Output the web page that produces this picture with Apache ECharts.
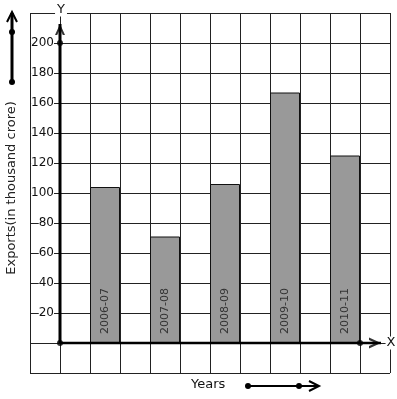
<!DOCTYPE html>
<html>
<head>
<meta charset="utf-8">
<script src="https://cdn.jsdelivr.net/npm/echarts@6/dist/echarts.min.js"></script>
<style>
  html, body { margin: 0; padding: 0; background: #fff; }
  #chart { width: 397px; height: 399px; }
</style>
</head>
<body>
<div id="chart"></div>
<script>
// data
const years = ["2006-07", "2007-08", "2008-09", "2009-10", "2010-11"];
const exportsVal = [104, 71, 106, 167, 125];
const yTicks = [20, 40, 60, 80, 100, 120, 140, 160, 180, 200];
const barSlots = [1.5, 3.5, 5.5, 7.5, 9.5]; // x position of each bar on the graph paper
const axisDots = [[0, 0], [0, 200], [10, 0]];
const yArrowTip = 212.7;
const xArrowTip = 10.7;

const font = "DejaVu Sans";
const upArrow = "path://M0,10 L5,0 L10,10 L7.8,10 L5,4.4 L2.2,10 Z";
const rightArrow = "path://M0,0 L10,5 L0,10 L0,7.8 L5.6,5 L0,2.2 Z";

const chart = echarts.init(document.getElementById("chart"), null, { renderer: "canvas" });

chart.setOption({
  animation: false,
  backgroundColor: "#fff",
  grid: { left: 30, top: 13, width: 360, height: 360, containLabel: false, outerBoundsMode: "none" },
  xAxis: {
    type: "value",
    min: -1,
    max: 11,
    interval: 1,
    axisLine: { show: false, onZero: false },
    axisTick: { show: false },
    axisLabel: { show: false },
    splitLine: { show: true, lineStyle: { color: "#222", width: 1 } },
  },
  yAxis: {
    type: "value",
    min: -20,
    max: 220,
    interval: 20,
    offset: -30, // labels sit beside the y axis drawn at x = 0
    axisLine: { show: false, onZero: false },
    axisTick: { show: false },
    axisLabel: {
      margin: 6,
      fontSize: 12,
      fontFamily: font,
      color: "#111",
      backgroundColor: "#fff",
      formatter: (v) => (yTicks.indexOf(v) >= 0 ? String(v) : ""),
    },
    splitLine: { show: true, lineStyle: { color: "#222", width: 1 } },
  },
  series: [
    {
      type: "bar",
      barWidth: 30,
      data: exportsVal.map((v, i) => [barSlots[i], v]),
      itemStyle: { color: "#999999", borderColor: "#111", borderWidth: 1 },
      label: {
        show: true,
        position: "insideBottom",
        rotate: 90,
        align: "left",
        verticalAlign: "middle",
        distance: 9,
        fontSize: 11,
        fontFamily: font,
        color: "#333",
        formatter: (p) => years[p.dataIndex],
      },
      z: 2,
    },
    {
      type: "line",
      data: [[0, 0], [0, yArrowTip]],
      symbol: "none",
      lineStyle: { color: "#000", width: 3 },
      z: 5,
    },
    {
      type: "line",
      data: [[0, 0], [xArrowTip, 0]],
      symbol: "none",
      lineStyle: { color: "#000", width: 2.5 },
      z: 5,
    },
    {
      type: "scatter",
      data: axisDots,
      symbol: "circle",
      symbolSize: 6,
      itemStyle: { color: "#000" },
      z: 6,
    },
    {
      type: "scatter",
      data: [[0, yArrowTip]],
      symbol: upArrow,
      symbolSize: [10, 11],
      symbolOffset: [0, "50%"],
      itemStyle: { color: "#000" },
      z: 6,
    },
    {
      type: "scatter",
      data: [[xArrowTip, 0]],
      symbol: rightArrow,
      symbolSize: [12, 11],
      symbolOffset: ["-50%", 0],
      itemStyle: { color: "#000" },
      z: 6,
    },
  ],
  graphic: [
    {
      type: "text",
      x: 12,
      y: 188,
      rotation: Math.PI / 2,
      style: {
        text: "Exports(in thousand crore)",
        fontSize: 13,
        fontFamily: font,
        fill: "#222",
        align: "center",
        verticalAlign: "middle",
      },
    },
    {
      type: "text",
      x: 61,
      y: 10,
      style: {
        text: "Y",
        fontSize: 13,
        fontFamily: font,
        fill: "#111",
        align: "center",
        verticalAlign: "middle",
        backgroundColor: "#fff",
        padding: [0, 2],
      },
      z: 10,
    },
    {
      type: "text",
      x: 391,
      y: 343,
      style: {
        text: "X",
        fontSize: 13,
        fontFamily: font,
        fill: "#111",
        align: "center",
        verticalAlign: "middle",
        backgroundColor: "#fff",
        padding: [0, 1],
      },
      z: 10,
    },
    {
      type: "text",
      x: 191,
      y: 385,
      style: {
        text: "Years",
        fontSize: 13,
        fontFamily: font,
        fill: "#111",
        align: "left",
        verticalAlign: "middle",
      },
    },
    // left decoration arrow
    { type: "line", shape: { x1: 12, y1: 82, x2: 12, y2: 13 }, style: { stroke: "#000", lineWidth: 3 } },
    { type: "polyline", shape: { points: [[7, 22], [12, 12], [17, 22]] }, style: { stroke: "#000", lineWidth: 2, fill: null } },
    { type: "circle", shape: { cx: 12, cy: 32, r: 3 }, style: { fill: "#000" } },
    { type: "circle", shape: { cx: 12, cy: 82, r: 3 }, style: { fill: "#000" } },
    // bottom decoration arrow
    { type: "line", shape: { x1: 248, y1: 386, x2: 318, y2: 386 }, style: { stroke: "#000", lineWidth: 2 } },
    { type: "polyline", shape: { points: [[309, 381], [319, 386], [309, 391]] }, style: { stroke: "#000", lineWidth: 2, fill: null } },
    { type: "circle", shape: { cx: 248, cy: 386, r: 3 }, style: { fill: "#000" } },
    { type: "circle", shape: { cx: 299, cy: 386, r: 3 }, style: { fill: "#000" } },
  ],
});
</script>
</body>
</html>
